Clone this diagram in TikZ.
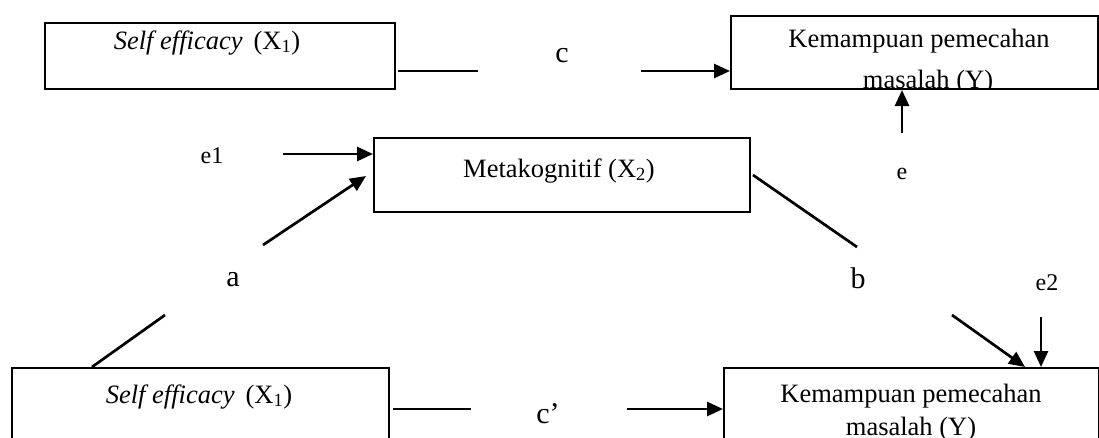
\documentclass[tikz,border=0pt]{standalone}
\usepackage{fontspec}
\setmainfont{Liberation Serif}
\usetikzlibrary{arrows.meta}
\begin{document}
\begin{tikzpicture}[x=1pt,y=-1pt,
  box/.style={draw, line width=2pt, inner sep=0pt, anchor=north west},
  txt/.style={anchor=base, inner sep=0pt, font=\fontsize{26.5}{30}\selectfont},
  big/.style={anchor=base, inner sep=0pt, font=\fontsize{30}{34}\selectfont},
  small/.style={anchor=base, inner sep=0pt, font=\fontsize{24}{28}\selectfont},
  conn/.style={line width=2.7pt},
  arr/.style={line width=2.7pt, -{Triangle[length=16pt,width=14pt]}}]
\useasboundingbox (0,0) rectangle (1099,437);
\clip (0,0) rectangle (1099,437);
% boxes
\node[box, minimum width=350pt, minimum height=66pt] (sx1) at (44,22) {};
\node[box, minimum width=367pt, minimum height=73pt] (y1) at (730,15) {};
\node[box, minimum width=376pt, minimum height=74pt] (x2) at (373,137) {};
\node[box, minimum width=377pt, minimum height=80pt] (sx2) at (11,367) {};
\node[box, minimum width=375pt, minimum height=80pt] (y2) at (723,367) {};
% box texts
\node[txt] (sx1t) at (207,49) {\textit{Self efficacy}\, (X\textsubscript{1})};
\begin{scope}
  \clip (730,15) rectangle (1097,88);
  \node[txt] (y1a) at (919,47) {Kemampuan pemecahan};
  \node[txt] (y1b) at (928,88) {masalah (Y)};
\end{scope}
\node[txt] (x2t) at (559,177) {Metakognitif (X\textsubscript{2})};
\node[txt] (sx2t) at (199,403) {\textit{Self efficacy}\, (X\textsubscript{1})};
\node[txt] (y2a) at (911,402) {Kemampuan pemecahan};
\node[txt] (y2b) at (911,435) {masalah (Y)};
% labels
\node[big] (lc) at (562,62) {c};
\node[big] (la) at (233,286) {a};
\node[big] (lb) at (858,288) {b};
\node[big] (lcp) at (548,423) {c’};
\node[small] (le1) at (212,163) {e1};
\node[small] (le) at (902,179) {e};
\node[small] (le2) at (1047,290) {e2};
% connector ends
\coordinate (c1s) at (398,71);
\coordinate (c1e) at (478,71);
\coordinate (c2s) at (641,71);
\coordinate (c3s) at (393,409);
\coordinate (c3e) at (471,409);
\coordinate (c4s) at (627,409);
\coordinate (a1s) at (92,367);
\coordinate (a1e) at (165,315);
\coordinate (a2s) at (263,245);
\coordinate (a2e) at (366,176);
\coordinate (b1s) at (753,175);
\coordinate (b1e) at (857,247);
\coordinate (b2s) at (952,315);
\coordinate (b2e) at (1025,367);
\coordinate (e1s) at (283,154);
\coordinate (es) at (902,133);
\coordinate (e2s) at (1041,317);
% connectors
\draw[conn] (c1s) -- (c1e);
\draw[arr] (c2s) -- (c2s -| y1.west);
\draw[conn] (c3s) -- (c3e);
\draw[arr] (c4s) -- (c4s -| y2.west);
\draw[conn] (a1s) -- (a1e);
\draw[arr] (a2s) -- (a2e);
\draw[conn] (b1s) -- (b1e);
\draw[arr] (b2s) -- (b2e);
\draw[arr] (e1s) -- (e1s -| x2.west);
\draw[arr] (es) -- (es |- y1.south);
\draw[arr] (e2s) -- (e2s |- y2.north);
\end{tikzpicture}
\end{document}
